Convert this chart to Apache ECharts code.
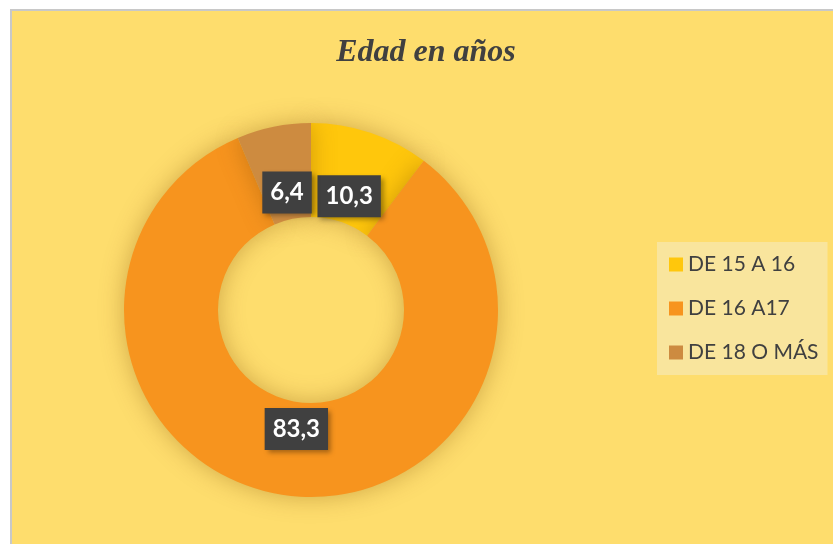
<!DOCTYPE html>
<html>
<head>
<meta charset="utf-8">
<script src="https://cdn.jsdelivr.net/npm/echarts@6/dist/echarts.min.js"></script>
<style>
  html, body { margin: 0; padding: 0; background: #fff; overflow: hidden; }
  #chart {
    position: absolute;
    left: 10px;
    top: 9px;
    width: 830px;
    height: 540px;
    border-left: 2px solid #c8c8c8;
    border-top: 2px solid #c8c8c8;
  }
</style>
</head>
<body>
<div id="chart"></div>
<script>
const categories = ['DE 15 A 16', 'DE 16 A17', 'DE 18 O MÁS']
const values = [10.3, 83.3, 6.4]
const colors = ['#FFC70C', '#F7941E', '#CD8B40']

const pieData = categories.map((name, i) => ({ name: name, value: values[i] }))

const myChart = echarts.init(document.getElementById('chart'))

const options = {
  backgroundColor: '#FEDD6D',
  title: {
    text: 'Edad en años',
    left: 409,
    top: 21,
    textAlign: 'center',
    textStyle: {
      fontFamily: '"Liberation Serif", "DejaVu Serif", serif',
      fontStyle: 'italic',
      fontWeight: 'bold',
      fontSize: 32,
      color: '#404040'
    }
  },
  legend: {
    orient: 'vertical',
    left: 645,
    top: 231,
    data: categories,
    backgroundColor: '#F9E59D',
    padding: [12, 9, 12, 12],
    itemWidth: 14,
    itemHeight: 14,
    itemGap: 23,
    icon: 'rect',
    textStyle: {
      fontFamily: 'Lato, "Open Sans", sans-serif',
      fontSize: 21,
      color: '#404040'
    }
  },
  color: colors,
  series: [
    {
      // visible donut
      name: 'Edad',
      type: 'pie',
      center: [299, 299],
      radius: [93, 187],
      startAngle: 90,
      clockwise: true,
      silent: true,
      label: { show: false },
      labelLine: { show: false },
      itemStyle: {
        shadowBlur: 25,
        shadowColor: 'rgba(120, 70, 0, 0.35)'
      },
      data: pieData
    },
    {
      // transparent carrier for the data labels
      name: 'Etiquetas',
      type: 'pie',
      center: [299, 299],
      radius: [0, 234],
      startAngle: 90,
      clockwise: true,
      silent: true,
      itemStyle: { color: 'rgba(0,0,0,0)' },
      labelLine: { show: false },
      label: {
        show: true,
        position: 'inside',
        formatter: p => String(p.value).replace('.', ','),
        fontFamily: 'Lato, "Open Sans", sans-serif',
        fontWeight: 'bold',
        fontSize: 24,
        color: '#fff',
        backgroundColor: '#404040',
        padding: [10, 8, 8, 8],
        shadowBlur: 5,
        shadowOffsetX: 3,
        shadowOffsetY: 3,
        shadowColor: 'rgba(0,0,0,0.35)'
      },
      emphasis: { disabled: true },
      data: pieData
    }
  ]
}

myChart.setOption(options)
</script>
</body>
</html>
